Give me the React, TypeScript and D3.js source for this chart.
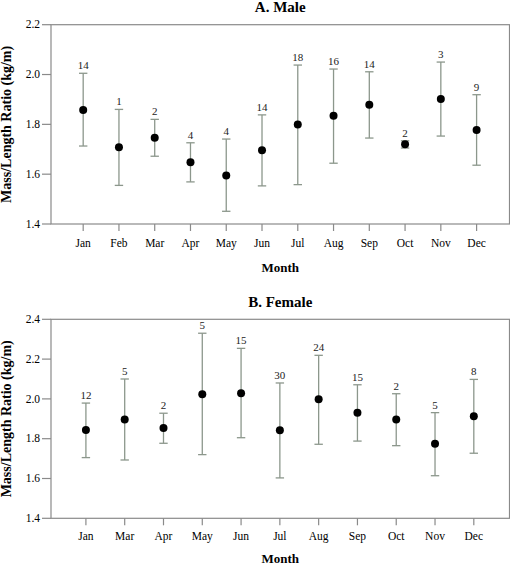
import React from "react";
import * as d3 from "d3";

const maleMonths = ["Jan", "Feb", "Mar", "Apr", "May", "Jun", "Jul", "Aug", "Sep", "Oct", "Nov", "Dec"];
const maleMean = [1.858, 1.708, 1.746, 1.648, 1.595, 1.696, 1.799, 1.835, 1.879, 1.72, 1.902, 1.777];
const maleUpper = [2.005, 1.86, 1.82, 1.726, 1.741, 1.838, 2.038, 2.022, 2.011, 1.734, 2.05, 1.919];
const maleLower = [1.713, 1.555, 1.672, 1.569, 1.451, 1.553, 1.558, 1.644, 1.745, 1.705, 1.753, 1.636];
const maleN = [14, 1, 2, 4, 4, 14, 18, 16, 14, 2, 3, 9];
const maleTicks = [1.4, 1.6, 1.8, 2.0, 2.2];

const femaleMonths = ["Jan", "Mar", "Apr", "May", "Jun", "Jul", "Aug", "Sep", "Oct", "Nov", "Dec"];
const femaleMean = [1.844, 1.897, 1.854, 2.023, 2.028, 1.842, 1.998, 1.931, 1.897, 1.775, 1.913];
const femaleUpper = [1.979, 2.1, 1.928, 2.33, 2.254, 2.08, 2.219, 2.071, 2.026, 1.931, 2.098];
const femaleLower = [1.705, 1.693, 1.777, 1.72, 1.805, 1.603, 1.772, 1.788, 1.765, 1.614, 1.727];
const femaleN = [12, 5, 2, 5, 15, 30, 24, 15, 2, 5, 8];
const femaleTicks = [1.4, 1.6, 1.8, 2.0, 2.2, 2.4];

const FONT = "Liberation Serif";
const AXIS = "#8a8a8a";
const BAR = "#8c978c";

type PanelProps = {
  plotTop: number;
  plotBottom: number;
  titleY: number;
  labelY: number;
  monthY: number;
  title: string;
  months: string[];
  mean: number[];
  upper: number[];
  lower: number[];
  n: number[];
  ticks: number[];
  yDomain: [number, number];
};

function Panel({ plotTop, plotBottom, titleY, labelY, monthY, title, months, mean, upper, lower, n, ticks, yDomain }: PanelProps) {
  const left = 51;
  const right = 509.5;
  const k = months.length;
  const x = d3.scaleLinear().domain([0.1, k + 0.92]).range([left, right]);
  const y = d3.scaleLinear().domain(yDomain).range([plotBottom, plotTop]);
  const cx = (i: number) => x(i + 1);
  const capW = 4.2;
  return (
    <g>
      <text x={(left + right) / 2} y={titleY} textAnchor="middle" fontFamily={FONT} fontWeight="bold" fontSize={15}>
        {title}
      </text>
      <rect x={left} y={plotTop} width={right - left} height={plotBottom - plotTop} fill="none" stroke={AXIS} strokeWidth={1.2} />
      {ticks.map((t) => (
        <g key={t}>
          <line x1={left - 9} x2={left} y1={y(t)} y2={y(t)} stroke={AXIS} strokeWidth={1.2} />
          <text x={left - 11} y={y(t)} dy="0.33em" textAnchor="end" fontFamily={FONT} fontSize={11.5}>
            {d3.format(".1f")(t)}
          </text>
        </g>
      ))}
      {months.map((m, i) => (
        <g key={m}>
          <line x1={cx(i)} x2={cx(i)} y1={plotBottom} y2={plotBottom + 7} stroke={AXIS} strokeWidth={1.2} />
          <text x={cx(i)} y={labelY} textAnchor="middle" fontFamily={FONT} fontSize={11.5}>
            {m}
          </text>
        </g>
      ))}
      <text x={(left + right) / 2} y={monthY} textAnchor="middle" fontFamily={FONT} fontWeight="bold" fontSize={13}>
        Month
      </text>
      <text
        transform={`translate(${11},${(plotTop + plotBottom) / 2}) rotate(-90)`}
        textAnchor="middle"
        fontFamily={FONT}
        fontWeight="bold"
        fontSize={14}
      >
        Mass/Length Ratio (kg/m)
      </text>
      {months.map((m, i) => (
        <g key={"e" + m}>
          <line x1={cx(i)} x2={cx(i)} y1={y(upper[i])} y2={y(lower[i])} stroke={BAR} strokeWidth={1.3} />
          <line x1={cx(i) - capW} x2={cx(i) + capW} y1={y(upper[i])} y2={y(upper[i])} stroke={BAR} strokeWidth={1.3} />
          <line x1={cx(i) - capW} x2={cx(i) + capW} y1={y(lower[i])} y2={y(lower[i])} stroke={BAR} strokeWidth={1.3} />
          <circle cx={cx(i)} cy={y(mean[i])} r={4} fill="#000" />
          <text x={cx(i)} y={y(upper[i]) - 4} textAnchor="middle" fontFamily={FONT} fontSize={11} fill="#222">
            {n[i]}
          </text>
        </g>
      ))}
    </g>
  );
}

export default function App() {
  return (
    <svg width={510} height={565} style={{ position: "absolute", left: 0, top: 0, background: "#fff" }}>
      <Panel
        plotTop={24.7}
        plotBottom={224}
        titleY={12}
        labelY={247}
        monthY={271.5}
        title="A. Male"
        months={maleMonths}
        mean={maleMean}
        upper={maleUpper}
        lower={maleLower}
        n={maleN}
        ticks={maleTicks}
        yDomain={[1.4, 2.2]}
      />
      <Panel
        plotTop={319.3}
        plotBottom={518.3}
        titleY={306.5}
        labelY={540}
        monthY={562.5}
        title="B. Female"
        months={femaleMonths}
        mean={femaleMean}
        upper={femaleUpper}
        lower={femaleLower}
        n={femaleN}
        ticks={femaleTicks}
        yDomain={[1.4, 2.4]}
      />
    </svg>
  );
}
